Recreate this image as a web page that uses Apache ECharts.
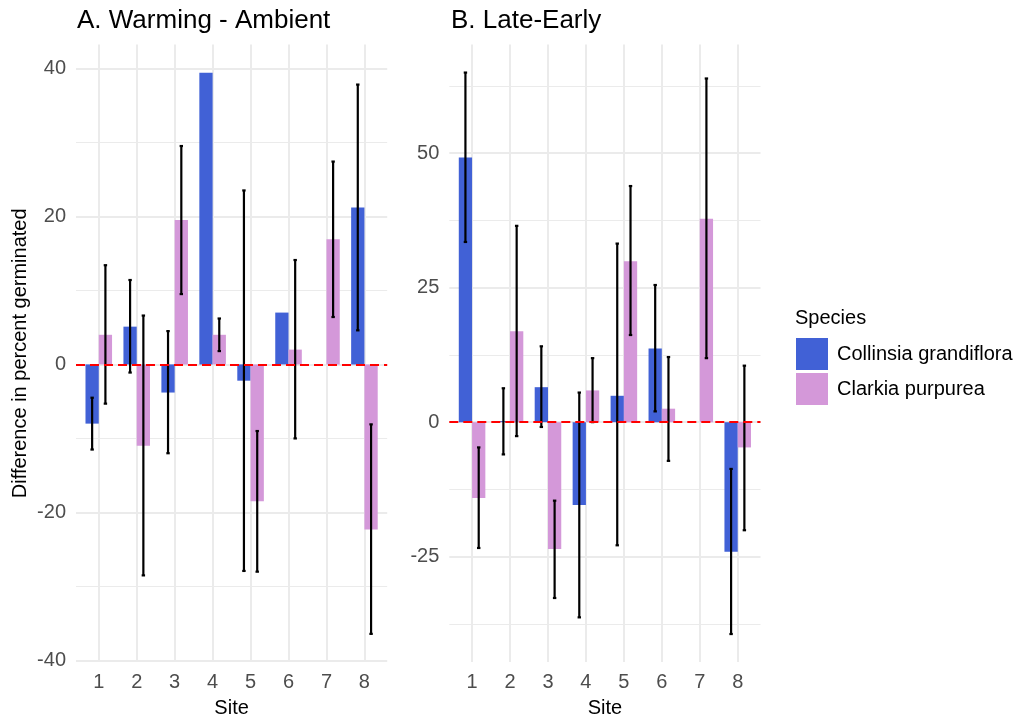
<!DOCTYPE html>
<html>
<head>
<meta charset="utf-8">
<title>Germination differences</title>
<script src="https://cdn.jsdelivr.net/npm/echarts@6/dist/echarts.min.js"></script>
<style>
  html, body { margin: 0; padding: 0; background: #fff; }
  #chart { width: 1026px; height: 723px; }
</style>
</head>
<body>
<div id="chart"></div>
<script>
// sites along x
var sites = [1, 2, 3, 4, 5, 6, 7, 8]

// A. Warming - Ambient
var warmCollinsia = [-8.0, 5.1, -3.8, 39.4, -2.2, 7.0, null, 21.2]
var warmCollinsiaLow = [-11.5, -1.1, -12.0, null, -27.9, null, null, 4.6]
var warmCollinsiaHigh = [-4.5, 11.4, 4.5, null, 23.5, null, null, 37.8]
var warmClarkia = [4.0, -11.0, 19.5, 4.0, -18.5, 2.0, 16.9, -22.3]
var warmClarkiaLow = [-5.3, -28.5, 9.5, 1.8, -28.0, -10.0, 6.4, -36.4]
var warmClarkiaHigh = [13.4, 6.6, 29.5, 6.2, -9.0, 14.1, 27.4, -8.1]

// B. Late-Early
var lateCollinsia = [49.2, 0.2, 6.5, -15.4, 4.9, 13.7, null, -24.1]
var lateCollinsiaLow = [33.5, -6.0, -0.9, -36.3, -22.9, 2.0, null, -39.4]
var lateCollinsiaHigh = [65.0, 6.3, 14.1, 5.5, 33.2, 25.5, null, -8.7]
var lateClarkia = [-14.1, 16.9, -23.6, 5.9, 29.9, 2.5, 37.8, -4.7]
var lateClarkiaLow = [-23.4, -2.6, -32.7, 0.0, 16.2, -7.2, 11.9, -20.1]
var lateClarkiaHigh = [-4.7, 36.5, -14.6, 11.9, 43.9, 12.1, 63.9, 10.5]

// tick labels
var ticksA = [-40, -20, 0, 20, 40]
var minorTicksA = [-30, -10, 10, 30]
var ticksB = [-25, 0, 25, 50]
var minorTicksB = [-37.5, -12.5, 12.5, 37.5, 62.5]

var speciesNames = ['Collinsia grandiflora', 'Clarkia purpurea']
var speciesColors = ['#4161D6', '#D498D9']

var FONT = '"Liberation Sans", Arial, Helvetica, sans-serif'
var GRID_COLOR = '#EBEBEB'
var BAR_W = 0.35 // bar width in site units (dodged pairs)

function rows(vals, lows, highs) {
  var out = []
  sites.forEach(function (s, i) {
    if (vals[i] == null) return
    out.push([s, vals[i], lows[i], highs[i]])
  })
  return out
}

function barRender(side) {
  return function (params, api) {
    var x = api.value(0)
    var top = api.coord([x, api.value(1)])
    var base = api.coord([x, 0])
    var w = api.size([BAR_W, 0])[0]
    var left = side < 0 ? top[0] - w : top[0]
    return {
      type: 'rect',
      shape: { x: left, y: Math.min(top[1], base[1]), width: w, height: Math.abs(base[1] - top[1]) },
      style: api.style()
    }
  }
}

function errRender(side) {
  return function (params, api) {
    var lo = api.value(2)
    var hi = api.value(3)
    if (lo == null || hi == null || isNaN(lo) || isNaN(hi)) return
    var x = api.value(0) + side * BAR_W / 2
    var p1 = api.coord([x, hi])
    var p2 = api.coord([x, lo])
    var cap = api.size([0.045, 0])[0]
    var st = { stroke: '#000', lineWidth: 2.2 }
    return {
      type: 'group',
      children: [
        { type: 'line', shape: { x1: p1[0], y1: p1[1], x2: p2[0], y2: p2[1] }, style: st },
        { type: 'line', shape: { x1: p1[0] - cap, y1: p1[1], x2: p1[0] + cap, y2: p1[1] }, style: st },
        { type: 'line', shape: { x1: p2[0] - cap, y1: p2[1], x2: p2[0] + cap, y2: p2[1] }, style: st }
      ]
    }
  }
}

function barSeries(name, color, side, xi, yi, data) {
  return {
    name: name,
    type: 'custom',
    xAxisIndex: xi,
    yAxisIndex: yi,
    renderItem: barRender(side),
    itemStyle: { color: color },
    encode: { x: 0, y: 1 },
    z: 2,
    silent: true,
    data: data
  }
}

function errSeries(name, side, xi, yi, data) {
  return {
    name: name + ' err',
    type: 'custom',
    xAxisIndex: xi,
    yAxisIndex: yi,
    renderItem: errRender(side),
    encode: { x: 0, y: [2, 3] },
    z: 4,
    silent: true,
    data: data
  }
}

function zeroLine(xi, yi) {
  return {
    type: 'line',
    xAxisIndex: xi,
    yAxisIndex: yi,
    data: [],
    z: 3,
    silent: true,
    markLine: {
      silent: true,
      symbol: 'none',
      label: { show: false },
      lineStyle: { color: '#FF0000', type: [9, 5], width: 2 },
      data: [{ yAxis: 0 }]
    }
  }
}

function xAxisFor(gi) {
  return {
    type: 'value',
    gridIndex: gi,
    min: 0.4,
    max: 8.6,
    axisLine: { show: false },
    axisTick: { show: false, customValues: sites },
    axisLabel: { customValues: sites, color: '#4D4D4D', fontSize: 20, fontFamily: FONT, margin: 10 },
    splitLine: { show: true, lineStyle: { color: GRID_COLOR, width: 2 } },
    name: 'Site',
    nameLocation: 'middle',
    nameGap: 36,
    nameTextStyle: { color: '#000', fontSize: 20, fontFamily: FONT }
  }
}

function yAxisFor(gi, min, max, ticks, name) {
  return {
    type: 'value',
    gridIndex: gi,
    min: min,
    max: max,
    axisLine: { show: false },
    axisTick: { show: false, customValues: ticks },
    axisLabel: { customValues: ticks, color: '#4D4D4D', fontSize: 20, fontFamily: FONT, margin: 10 },
    splitLine: { show: true, lineStyle: { color: GRID_COLOR, width: 2 } },
    name: name,
    nameLocation: 'middle',
    nameGap: 46,
    nameRotate: 90,
    nameTextStyle: { color: '#000', fontSize: 20, fontFamily: FONT }
  }
}

function minorAxisFor(gi, min, max, ticks) {
  return {
    type: 'value',
    gridIndex: gi,
    min: min,
    max: max,
    position: 'left',
    axisLine: { show: false },
    axisTick: { show: false, customValues: ticks },
    axisLabel: { show: false },
    splitLine: { show: true, lineStyle: { color: GRID_COLOR, width: 1 } }
  }
}

var chart = echarts.init(document.getElementById('chart'))

var option = {
  backgroundColor: '#fff',
  animation: false,
  title: [
    { text: 'A. Warming - Ambient', left: 72, top: 3, textStyle: { fontSize: 26, fontWeight: 'normal', color: '#000', fontFamily: FONT } },
    { text: 'B. Late-Early', left: 446, top: 3, textStyle: { fontSize: 26, fontWeight: 'normal', color: '#000', fontFamily: FONT } },
    { text: 'Species', left: 790, top: 303, textStyle: { fontSize: 20, fontWeight: 'normal', color: '#000', fontFamily: FONT } }
  ],
  legend: {
    data: speciesNames,
    orient: 'vertical',
    left: 791,
    top: 333,
    icon: 'rect',
    itemWidth: 32,
    itemHeight: 32,
    itemGap: 3,
    selectedMode: false,
    textStyle: { fontSize: 20, color: '#000', fontFamily: FONT, padding: [0, 0, 0, 4] }
  },
  grid: [
    { left: 76, top: 44.6, width: 311.2, height: 622.4 },
    { left: 449.3, top: 44.6, width: 311.2, height: 622.4 }
  ],
  xAxis: [xAxisFor(0), xAxisFor(1)],
  yAxis: [
    yAxisFor(0, -40.2, 43.2, ticksA, 'Difference in percent germinated'),
    minorAxisFor(0, -40.2, 43.2, minorTicksA),
    yAxisFor(1, -44.6, 70.2, ticksB, ''),
    minorAxisFor(1, -44.6, 70.2, minorTicksB)
  ],
  series: [
    barSeries(speciesNames[0], speciesColors[0], -1, 0, 0, rows(warmCollinsia, warmCollinsiaLow, warmCollinsiaHigh)),
    barSeries(speciesNames[1], speciesColors[1], 1, 0, 0, rows(warmClarkia, warmClarkiaLow, warmClarkiaHigh)),
    barSeries(speciesNames[0], speciesColors[0], -1, 1, 2, rows(lateCollinsia, lateCollinsiaLow, lateCollinsiaHigh)),
    barSeries(speciesNames[1], speciesColors[1], 1, 1, 2, rows(lateClarkia, lateClarkiaLow, lateClarkiaHigh)),
    zeroLine(0, 0),
    zeroLine(1, 2),
    errSeries(speciesNames[0], -1, 0, 0, rows(warmCollinsia, warmCollinsiaLow, warmCollinsiaHigh)),
    errSeries(speciesNames[1], 1, 0, 0, rows(warmClarkia, warmClarkiaLow, warmClarkiaHigh)),
    errSeries(speciesNames[0], -1, 1, 2, rows(lateCollinsia, lateCollinsiaLow, lateCollinsiaHigh)),
    errSeries(speciesNames[1], 1, 1, 2, rows(lateClarkia, lateClarkiaLow, lateClarkiaHigh))
  ]
}

chart.setOption(option)
</script>
</body>
</html>
